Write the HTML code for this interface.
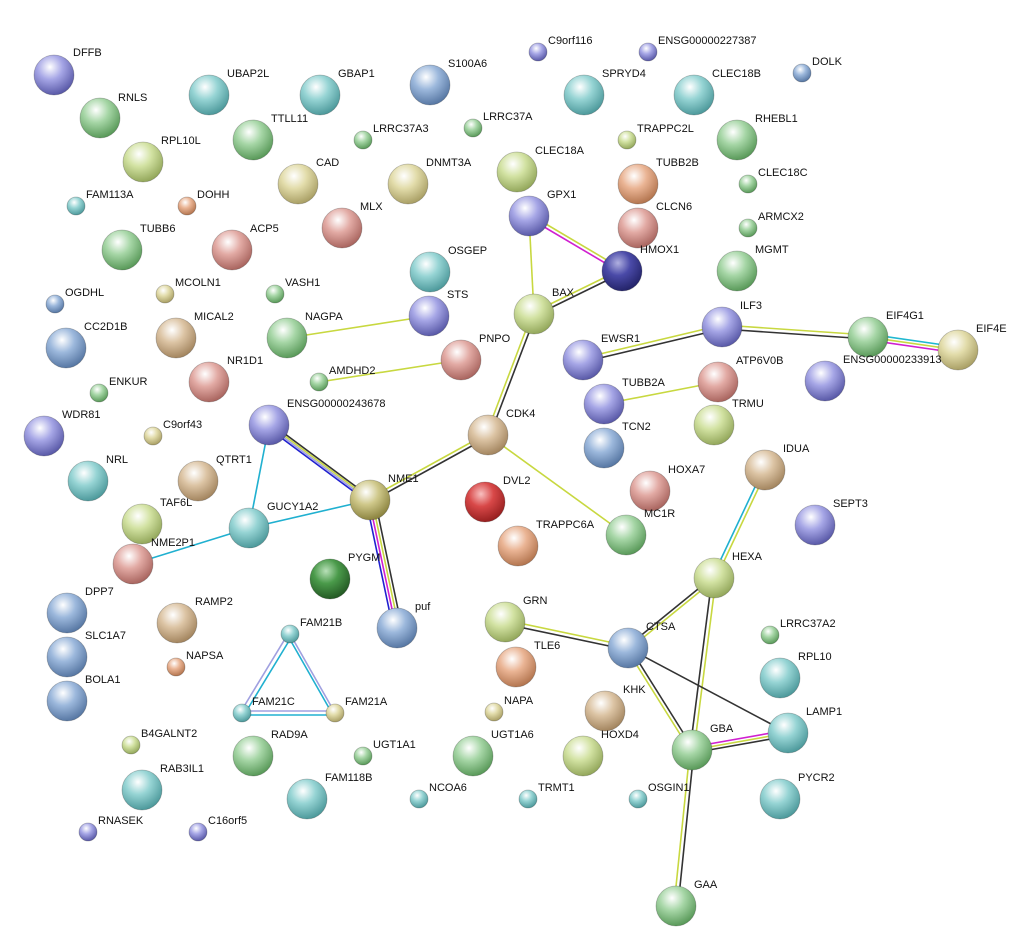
<!DOCTYPE html>
<html><head><meta charset="utf-8"><style>
html,body{margin:0;padding:0;background:#fff;width:1029px;height:951px;overflow:hidden}
svg text{font-family:"Liberation Sans",sans-serif;font-size:11px;fill:#111}
</style></head><body>
<svg width="1029" height="951" xmlns="http://www.w3.org/2000/svg">
<defs>
<radialGradient id="pu" cx="40%" cy="30%" r="70%"><stop offset="0" stop-color="#fff"/><stop offset="0.45" stop-color="#a6a6e6"/><stop offset="1" stop-color="#5a5aa8"/></radialGradient>
<radialGradient id="bl" cx="40%" cy="30%" r="70%"><stop offset="0" stop-color="#fff"/><stop offset="0.45" stop-color="#9cb8dc"/><stop offset="1" stop-color="#5878a4"/></radialGradient>
<radialGradient id="te" cx="40%" cy="30%" r="70%"><stop offset="0" stop-color="#fff"/><stop offset="0.45" stop-color="#96d4d4"/><stop offset="1" stop-color="#4e9a9c"/></radialGradient>
<radialGradient id="gr" cx="40%" cy="30%" r="70%"><stop offset="0" stop-color="#fff"/><stop offset="0.45" stop-color="#a6d6a6"/><stop offset="1" stop-color="#5a9a5a"/></radialGradient>
<radialGradient id="yg" cx="40%" cy="30%" r="70%"><stop offset="0" stop-color="#fff"/><stop offset="0.45" stop-color="#d2e2a2"/><stop offset="1" stop-color="#94a85c"/></radialGradient>
<radialGradient id="ye" cx="40%" cy="30%" r="70%"><stop offset="0" stop-color="#fff"/><stop offset="0.45" stop-color="#e2dcaa"/><stop offset="1" stop-color="#aaa066"/></radialGradient>
<radialGradient id="ta" cx="40%" cy="30%" r="70%"><stop offset="0" stop-color="#fff"/><stop offset="0.45" stop-color="#dcc4a4"/><stop offset="1" stop-color="#a48660"/></radialGradient>
<radialGradient id="or" cx="40%" cy="30%" r="70%"><stop offset="0" stop-color="#fff"/><stop offset="0.45" stop-color="#eab494"/><stop offset="1" stop-color="#b47650"/></radialGradient>
<radialGradient id="sa" cx="40%" cy="30%" r="70%"><stop offset="0" stop-color="#fff"/><stop offset="0.45" stop-color="#e2aaa4"/><stop offset="1" stop-color="#aa6660"/></radialGradient>
<radialGradient id="re" cx="40%" cy="30%" r="70%"><stop offset="0" stop-color="#f8c0c0"/><stop offset="0.45" stop-color="#d84848"/><stop offset="1" stop-color="#982020"/></radialGradient>
<radialGradient id="db" cx="40%" cy="30%" r="70%"><stop offset="0" stop-color="#b0b0e0"/><stop offset="0.45" stop-color="#4a4aa8"/><stop offset="1" stop-color="#24246a"/></radialGradient>
<radialGradient id="dg" cx="40%" cy="30%" r="70%"><stop offset="0" stop-color="#b8e0b8"/><stop offset="0.45" stop-color="#4a9a4a"/><stop offset="1" stop-color="#245a24"/></radialGradient>
<radialGradient id="ol" cx="40%" cy="30%" r="70%"><stop offset="0" stop-color="#fff"/><stop offset="0.45" stop-color="#cfc88a"/><stop offset="1" stop-color="#8c8440"/></radialGradient>
</defs>
<g stroke-width="1.6" fill="none">
<!-- GPX1-HMOX1 -->
<line x1="529" y1="214" x2="622" y2="269" stroke="#c8d840"/><line x1="529" y1="218" x2="622" y2="273" stroke="#d020d0"/>
<line x1="529" y1="216" x2="534" y2="314" stroke="#c8d840"/>
<line x1="622" y1="269" x2="534" y2="312" stroke="#c8d840"/><line x1="622" y1="273" x2="534" y2="316" stroke="#333"/>
<line x1="532" y1="314" x2="486" y2="435" stroke="#c8d840"/><line x1="536" y1="314" x2="490" y2="435" stroke="#333"/>
<line x1="287" y1="338" x2="429" y2="316" stroke="#c8d840"/>
<line x1="319" y1="382" x2="461" y2="360" stroke="#c8d840"/>
<line x1="722" y1="325" x2="583" y2="358" stroke="#c8d840"/><line x1="722" y1="329" x2="583" y2="362" stroke="#333"/>
<line x1="722" y1="325" x2="868" y2="335" stroke="#c8d840"/><line x1="722" y1="329" x2="868" y2="339" stroke="#333"/>
<line x1="868" y1="334" x2="958" y2="347" stroke="#20b8d0"/><line x1="868" y1="337" x2="958" y2="350" stroke="#c8d840"/><line x1="868" y1="340" x2="958" y2="353" stroke="#d020d0"/>
<line x1="604" y1="404" x2="718" y2="382" stroke="#c8d840"/>
<line x1="488" y1="433" x2="370" y2="498" stroke="#c8d840"/><line x1="488" y1="437" x2="370" y2="502" stroke="#333"/>
<line x1="488" y1="435" x2="626" y2="535" stroke="#c8d840"/>
<line x1="264" y1="425" x2="365" y2="500" stroke="#2020d0"/><line x1="267" y1="425" x2="368" y2="500" stroke="#a0a0e0"/><line x1="270" y1="425" x2="371" y2="500" stroke="#c8d840"/><line x1="273" y1="425" x2="374" y2="500" stroke="#333"/>
<line x1="269" y1="425" x2="249" y2="528" stroke="#20b0d0"/>
<line x1="249" y1="528" x2="370" y2="500" stroke="#20b0d0"/>
<line x1="249" y1="528" x2="133" y2="564" stroke="#20b0d0"/>
<line x1="366" y1="500" x2="393" y2="628" stroke="#2020d0"/><line x1="369" y1="500" x2="396" y2="628" stroke="#d020d0"/><line x1="372" y1="500" x2="399" y2="628" stroke="#c8d840"/><line x1="375" y1="500" x2="402" y2="628" stroke="#333"/>
<line x1="763" y1="470" x2="712" y2="578" stroke="#20b0d0"/><line x1="767" y1="470" x2="716" y2="578" stroke="#c8d840"/>
<line x1="714" y1="576" x2="628" y2="646" stroke="#333"/><line x1="714" y1="580" x2="628" y2="650" stroke="#c8d840"/>
<line x1="712" y1="578" x2="690" y2="750" stroke="#333"/><line x1="716" y1="578" x2="694" y2="750" stroke="#c8d840"/>
<line x1="505" y1="620" x2="628" y2="646" stroke="#c8d840"/><line x1="505" y1="624" x2="628" y2="650" stroke="#333"/>
<line x1="626" y1="648" x2="690" y2="750" stroke="#c8d840"/><line x1="630" y1="648" x2="694" y2="750" stroke="#333"/>
<line x1="628" y1="648" x2="788" y2="733" stroke="#333"/>
<line x1="692" y1="747" x2="788" y2="730" stroke="#d020d0"/><line x1="692" y1="750" x2="788" y2="733" stroke="#c8d840"/><line x1="692" y1="753" x2="788" y2="736" stroke="#333"/>
<line x1="690" y1="750" x2="674" y2="906" stroke="#c8d840"/><line x1="694" y1="750" x2="678" y2="906" stroke="#333"/>
<line x1="288" y1="634" x2="240" y2="713" stroke="#a0a0e0"/><line x1="292" y1="636" x2="244" y2="715" stroke="#20b0d0"/>
<line x1="290" y1="634" x2="335" y2="713" stroke="#a0a0e0"/><line x1="288" y1="636" x2="333" y2="715" stroke="#20b0d0"/>
<line x1="242" y1="711" x2="335" y2="711" stroke="#a0a0e0"/><line x1="242" y1="715" x2="335" y2="715" stroke="#20b0d0"/>
</g>
<g stroke="rgba(0,0,0,0.25)" stroke-width="0.8">
<circle cx="54" cy="75" r="20" fill="url(#pu)"/><circle cx="100" cy="118" r="20" fill="url(#gr)"/><circle cx="209" cy="95" r="20" fill="url(#te)"/><circle cx="320" cy="95" r="20" fill="url(#te)"/><circle cx="430" cy="85" r="20" fill="url(#bl)"/>
<circle cx="538" cy="52" r="9" fill="url(#pu)"/><circle cx="648" cy="52" r="9" fill="url(#pu)"/><circle cx="802" cy="73" r="9" fill="url(#bl)"/>
<circle cx="584" cy="95" r="20" fill="url(#te)"/><circle cx="694" cy="95" r="20" fill="url(#te)"/><circle cx="143" cy="162" r="20" fill="url(#yg)"/><circle cx="253" cy="140" r="20" fill="url(#gr)"/>
<circle cx="363" cy="140" r="9" fill="url(#gr)"/><circle cx="473" cy="128" r="9" fill="url(#gr)"/><circle cx="627" cy="140" r="9" fill="url(#yg)"/>
<circle cx="737" cy="140" r="20" fill="url(#gr)"/><circle cx="298" cy="184" r="20" fill="url(#ye)"/><circle cx="408" cy="184" r="20" fill="url(#ye)"/><circle cx="517" cy="172" r="20" fill="url(#yg)"/><circle cx="638" cy="184" r="20" fill="url(#or)"/>
<circle cx="748" cy="184" r="9" fill="url(#gr)"/><circle cx="76" cy="206" r="9" fill="url(#te)"/><circle cx="187" cy="206" r="9" fill="url(#or)"/>
<circle cx="342" cy="228" r="20" fill="url(#sa)"/><circle cx="529" cy="216" r="20" fill="url(#pu)"/><circle cx="638" cy="228" r="20" fill="url(#sa)"/>
<circle cx="748" cy="228" r="9" fill="url(#gr)"/><circle cx="122" cy="250" r="20" fill="url(#gr)"/><circle cx="232" cy="250" r="20" fill="url(#sa)"/><circle cx="430" cy="272" r="20" fill="url(#te)"/><circle cx="622" cy="271" r="20" fill="url(#db)"/><circle cx="737" cy="271" r="20" fill="url(#gr)"/>
<circle cx="165" cy="294" r="9" fill="url(#ye)"/><circle cx="275" cy="294" r="9" fill="url(#gr)"/><circle cx="55" cy="304" r="9" fill="url(#bl)"/>
<circle cx="429" cy="316" r="20" fill="url(#pu)"/><circle cx="534" cy="314" r="20" fill="url(#yg)"/><circle cx="176" cy="338" r="20" fill="url(#ta)"/><circle cx="287" cy="338" r="20" fill="url(#gr)"/><circle cx="722" cy="327" r="20" fill="url(#pu)"/><circle cx="868" cy="337" r="20" fill="url(#gr)"/><circle cx="958" cy="350" r="20" fill="url(#ye)"/><circle cx="66" cy="348" r="20" fill="url(#bl)"/>
<circle cx="461" cy="360" r="20" fill="url(#sa)"/><circle cx="583" cy="360" r="20" fill="url(#pu)"/><circle cx="825" cy="381" r="20" fill="url(#pu)"/><circle cx="718" cy="382" r="20" fill="url(#sa)"/><circle cx="209" cy="382" r="20" fill="url(#sa)"/>
<circle cx="319" cy="382" r="9" fill="url(#gr)"/><circle cx="99" cy="393" r="9" fill="url(#gr)"/>
<circle cx="604" cy="404" r="20" fill="url(#pu)"/><circle cx="44" cy="436" r="20" fill="url(#pu)"/><circle cx="269" cy="425" r="20" fill="url(#pu)"/>
<circle cx="153" cy="436" r="9" fill="url(#ye)"/>
<circle cx="488" cy="435" r="20" fill="url(#ta)"/><circle cx="714" cy="425" r="20" fill="url(#yg)"/><circle cx="604" cy="448" r="20" fill="url(#bl)"/><circle cx="765" cy="470" r="20" fill="url(#ta)"/><circle cx="88" cy="481" r="20" fill="url(#te)"/><circle cx="198" cy="481" r="20" fill="url(#ta)"/><circle cx="650" cy="491" r="20" fill="url(#sa)"/>
<circle cx="370" cy="500" r="20" fill="url(#ol)"/><circle cx="485" cy="502" r="20" fill="url(#re)"/><circle cx="815" cy="525" r="20" fill="url(#pu)"/><circle cx="142" cy="524" r="20" fill="url(#yg)"/><circle cx="249" cy="528" r="20" fill="url(#te)"/><circle cx="626" cy="535" r="20" fill="url(#gr)"/><circle cx="518" cy="546" r="20" fill="url(#or)"/><circle cx="133" cy="564" r="20" fill="url(#sa)"/>
<circle cx="714" cy="578" r="20" fill="url(#yg)"/><circle cx="330" cy="579" r="20" fill="url(#dg)"/><circle cx="67" cy="613" r="20" fill="url(#bl)"/><circle cx="177" cy="623" r="20" fill="url(#ta)"/><circle cx="505" cy="622" r="20" fill="url(#yg)"/><circle cx="397" cy="628" r="20" fill="url(#bl)"/><circle cx="628" cy="648" r="20" fill="url(#bl)"/>
<circle cx="290" cy="634" r="9" fill="url(#te)"/><circle cx="770" cy="635" r="9" fill="url(#gr)"/>
<circle cx="67" cy="657" r="20" fill="url(#bl)"/><circle cx="516" cy="667" r="20" fill="url(#or)"/>
<circle cx="176" cy="667" r="9" fill="url(#or)"/>
<circle cx="780" cy="678" r="20" fill="url(#te)"/><circle cx="67" cy="701" r="20" fill="url(#bl)"/>
<circle cx="494" cy="712" r="9" fill="url(#ye)"/><circle cx="335" cy="713" r="9" fill="url(#ye)"/><circle cx="242" cy="713" r="9" fill="url(#te)"/>
<circle cx="605" cy="711" r="20" fill="url(#ta)"/><circle cx="788" cy="733" r="20" fill="url(#te)"/>
<circle cx="131" cy="745" r="9" fill="url(#yg)"/>
<circle cx="253" cy="756" r="20" fill="url(#gr)"/><circle cx="363" cy="756" r="9" fill="url(#gr)"/><circle cx="473" cy="756" r="20" fill="url(#gr)"/><circle cx="583" cy="756" r="20" fill="url(#yg)"/><circle cx="692" cy="750" r="20" fill="url(#gr)"/>
<circle cx="142" cy="790" r="20" fill="url(#te)"/><circle cx="307" cy="799" r="20" fill="url(#te)"/>
<circle cx="419" cy="799" r="9" fill="url(#te)"/><circle cx="528" cy="799" r="9" fill="url(#te)"/><circle cx="638" cy="799" r="9" fill="url(#te)"/>
<circle cx="780" cy="799" r="20" fill="url(#te)"/>
<circle cx="88" cy="832" r="9" fill="url(#pu)"/><circle cx="198" cy="832" r="9" fill="url(#pu)"/>
<circle cx="676" cy="906" r="20" fill="url(#gr)"/>
</g>
<g>
<text x="73" y="56">DFFB</text><text x="118" y="101">RNLS</text><text x="227" y="77">UBAP2L</text><text x="338" y="77">GBAP1</text><text x="448" y="67">S100A6</text>
<text x="548" y="44">C9orf116</text><text x="658" y="44">ENSG00000227387</text><text x="812" y="65">DOLK</text><text x="602" y="77">SPRYD4</text><text x="712" y="77">CLEC18B</text>
<text x="161" y="144">RPL10L</text><text x="271" y="122">TTLL11</text><text x="373" y="132">LRRC37A3</text><text x="483" y="120">LRRC37A</text><text x="637" y="132">TRAPPC2L</text><text x="755" y="122">RHEBL1</text>
<text x="316" y="166">CAD</text><text x="426" y="166">DNMT3A</text><text x="535" y="154">CLEC18A</text><text x="656" y="166">TUBB2B</text><text x="758" y="176">CLEC18C</text>
<text x="86" y="198">FAM113A</text><text x="197" y="198">DOHH</text><text x="360" y="210">MLX</text><text x="547" y="198">GPX1</text><text x="656" y="210">CLCN6</text><text x="758" y="220">ARMCX2</text>
<text x="140" y="232">TUBB6</text><text x="250" y="232">ACP5</text><text x="448" y="254">OSGEP</text><text x="640" y="253">HMOX1</text><text x="755" y="253">MGMT</text>
<text x="175" y="286">MCOLN1</text><text x="285" y="286">VASH1</text><text x="65" y="296">OGDHL</text><text x="447" y="298">STS</text><text x="552" y="296">BAX</text>
<text x="194" y="320">MICAL2</text><text x="305" y="320">NAGPA</text><text x="740" y="309">ILF3</text><text x="886" y="319">EIF4G1</text><text x="976" y="332">EIF4E</text><text x="84" y="330">CC2D1B</text>
<text x="479" y="342">PNPO</text><text x="601" y="342">EWSR1</text><text x="843" y="363">ENSG00000233913</text><text x="736" y="364">ATP6V0B</text><text x="227" y="364">NR1D1</text>
<text x="329" y="374">AMDHD2</text><text x="109" y="385">ENKUR</text><text x="622" y="386">TUBB2A</text><text x="62" y="418">WDR81</text><text x="287" y="407">ENSG00000243678</text>
<text x="163" y="428">C9orf43</text><text x="506" y="417">CDK4</text><text x="732" y="407">TRMU</text><text x="622" y="430">TCN2</text><text x="783" y="452">IDUA</text>
<text x="106" y="463">NRL</text><text x="216" y="463">QTRT1</text><text x="668" y="473">HOXA7</text><text x="388" y="482">NME1</text><text x="503" y="484">DVL2</text>
<text x="833" y="507">SEPT3</text><text x="160" y="506">TAF6L</text><text x="267" y="510">GUCY1A2</text><text x="644" y="517">MC1R</text><text x="536" y="528">TRAPPC6A</text><text x="151" y="546">NME2P1</text>
<text x="732" y="560">HEXA</text><text x="348" y="561">PYGM</text><text x="85" y="595">DPP7</text><text x="195" y="605">RAMP2</text><text x="523" y="604">GRN</text><text x="415" y="610">puf</text><text x="646" y="630">CTSA</text>
<text x="300" y="626">FAM21B</text><text x="780" y="627">LRRC37A2</text><text x="85" y="639">SLC1A7</text><text x="534" y="649">TLE6</text><text x="186" y="659">NAPSA</text>
<text x="798" y="660">RPL10</text><text x="85" y="683">BOLA1</text><text x="504" y="704">NAPA</text><text x="345" y="705">FAM21A</text><text x="252" y="705">FAM21C</text><text x="623" y="693">KHK</text><text x="806" y="715">LAMP1</text>
<text x="141" y="737">B4GALNT2</text><text x="271" y="738">RAD9A</text><text x="373" y="748">UGT1A1</text><text x="491" y="738">UGT1A6</text><text x="601" y="738">HOXD4</text><text x="710" y="732">GBA</text>
<text x="160" y="772">RAB3IL1</text><text x="325" y="781">FAM118B</text><text x="429" y="791">NCOA6</text><text x="538" y="791">TRMT1</text><text x="648" y="791">OSGIN1</text><text x="798" y="781">PYCR2</text>
<text x="98" y="824">RNASEK</text><text x="208" y="824">C16orf5</text><text x="694" y="888">GAA</text>
</g>
</svg>
</body></html>
